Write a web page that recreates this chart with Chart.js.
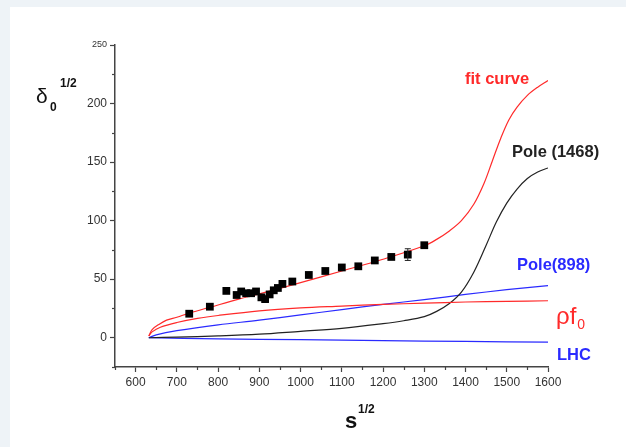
<!DOCTYPE html>
<html>
<head>
<meta charset="utf-8">
<script src="https://cdn.jsdelivr.net/npm/chart.js@4"></script>
<style>
  body { margin: 0; background: #eef3f7; }
  #panel { position: absolute; left: 10px; top: 7px; right: 0; bottom: 0; background: #fff; }
  #wrap { position: absolute; left: 0; top: 0; width: 626px; height: 447px; }
</style>
</head>
<body>
<div id="panel"></div>
<div id="wrap"><canvas id="chart" width="626" height="447"></canvas></div>
<script>
// measured points
const dataX = [730, 780, 820, 845, 856, 868, 880, 892, 905, 914, 925, 935, 945, 956, 980, 1020, 1060, 1100, 1140, 1180, 1220, 1260, 1300];
const dataY = [20.5, 26.5, 40, 36.5, 39.5, 38, 38, 39.5, 34.5, 33, 37, 40.5, 42.5, 46, 48, 53.6, 57, 60, 61, 66, 69, 71, 79];
const dataErr = [0, 0, 0, 0, 0, 0, 0, 0, 0, 0, 0, 0, 0, 0, 0, 0, 0, 0, 0, 0, 0, 5, 0];

// curves
const fitX = [632, 640, 655, 675, 700, 730, 780, 850, 900, 1000, 1100, 1200, 1300, 1330, 1360, 1390, 1420, 1445, 1465, 1485, 1505, 1525, 1550, 1575, 1600];
const fitY = [1.5, 7, 11, 15, 17.5, 21, 26, 33, 37.5, 47, 57, 67, 78.5, 84, 91, 100, 114, 132, 151, 170, 186, 197, 207, 214, 219.7];

const rhoX = [632, 640, 660, 700, 750, 800, 900, 1000, 1100, 1200, 1300, 1400, 1500, 1600];
const rhoY = [1.5, 5, 9, 13, 16.5, 19, 23, 25.5, 27, 28.5, 29.5, 30.5, 31, 31.6];

const poleHX = [632, 700, 800, 900, 1000, 1100, 1200, 1250, 1300, 1330, 1360, 1390, 1420, 1450, 1475, 1500, 1525, 1550, 1575, 1600];
const poleHY = [0, 0.5, 1.5, 3, 5.5, 8, 12, 14.5, 18, 22.5, 29, 39, 56, 79, 99, 115, 127, 136, 141.5, 145];

const poleLX = [632, 650, 700, 800, 900, 1000, 1100, 1200, 1300, 1400, 1500, 1600];
const poleLY = [0, 2.5, 6, 11, 15, 19.5, 24, 28.5, 32.5, 37, 41, 44.5];

const lhcX = [632, 800, 1000, 1200, 1400, 1600];
const lhcY = [0, -1, -1.7, -2.5, -3.2, -3.8];

const xTicks = [600, 700, 800, 900, 1000, 1100, 1200, 1300, 1400, 1500, 1600];
const xMinor = [550, 650, 750, 850, 950, 1050, 1150, 1250, 1350, 1450, 1550];
const yTicks = [0, 50, 100, 150, 200, 250];
const yMinor = [-25, 25, 75, 125, 175, 225];

const pts = (xs, ys) => xs.map((x, i) => ({ x: x, y: ys[i] }));

const RED = '#ff2a2a', BLUE = '#2a2aff', BLACK = '#222', AXIS = '#444';
const FONT = '"Liberation Sans", Arial, sans-serif';

function curve(xs, ys, color) {
  return {
    type: 'line', data: pts(xs, ys), borderColor: color, borderWidth: 1.2,
    pointRadius: 0, fill: false, tension: 0.35, order: 2
  };
}

const extras = {
  id: 'extras',
  afterDatasetsDraw(chart) {
    const { ctx, scales: { x, y } } = chart;
    ctx.save();
    // error bars
    ctx.strokeStyle = BLACK; ctx.lineWidth = 1;
    dataErr.forEach((e, i) => {
      if (!e) return;
      const px = x.getPixelForValue(dataX[i]);
      const y1 = y.getPixelForValue(dataY[i] + e), y2 = y.getPixelForValue(dataY[i] - e);
      ctx.beginPath();
      ctx.moveTo(px, y1); ctx.lineTo(px, y2);
      ctx.moveTo(px - 3, y1); ctx.lineTo(px + 3, y1);
      ctx.moveTo(px - 3, y2); ctx.lineTo(px + 3, y2);
      ctx.stroke();
    });
    // minor ticks
    ctx.strokeStyle = AXIS; ctx.lineWidth = 1.2;
    const b = chart.chartArea.bottom, l = chart.chartArea.left;
    xMinor.forEach(v => {
      const px = Math.round(x.getPixelForValue(v)) + 0.5;
      ctx.beginPath(); ctx.moveTo(px, b); ctx.lineTo(px, b + 3); ctx.stroke();
    });
    yMinor.forEach(v => {
      const py = Math.round(y.getPixelForValue(v)) + 0.5;
      ctx.beginPath(); ctx.moveTo(l, py); ctx.lineTo(l - 3, py); ctx.stroke();
    });

    // curve labels
    const xr = x.getPixelForValue(1600);
    ctx.textBaseline = 'middle';
    ctx.textAlign = 'left';
    ctx.font = 'bold 16.5px ' + FONT;
    ctx.fillStyle = RED;   ctx.fillText('fit curve', xr - 83, y.getPixelForValue(220.5));
    ctx.fillStyle = BLACK; ctx.fillText('Pole (1468)', xr - 36, y.getPixelForValue(158));
    ctx.fillStyle = BLUE;  ctx.fillText('Pole(898)', xr - 31, y.getPixelForValue(61.5));
    ctx.fillStyle = BLUE;  ctx.fillText('LHC', xr + 9, y.getPixelForValue(-15.4));
    ctx.fillStyle = RED;
    ctx.font = '24px ' + FONT;
    ctx.fillText('\u03c1f', xr + 8, y.getPixelForValue(17));
    const w = ctx.measureText('\u03c1f').width;
    ctx.font = '14px ' + FONT;
    ctx.fillText('0', xr + 9 + w, y.getPixelForValue(11));

    // axis titles
    ctx.fillStyle = '#111';
    ctx.font = '21px ' + FONT;
    ctx.fillText('\u03b4', 36, 97);
    ctx.font = 'bold 12px ' + FONT;
    ctx.fillText('0', 50, 108);
    ctx.fillText('1/2', 60, 84);
    ctx.font = 'bold 22px ' + FONT;
    ctx.fillText('s', 345, 422);
    ctx.font = 'bold 12px ' + FONT;
    ctx.fillText('1/2', 358, 410);
    ctx.restore();
  }
};

new Chart(document.getElementById('chart'), {
  type: 'scatter',
  data: {
    datasets: [
      curve(fitX, fitY, RED),
      curve(rhoX, rhoY, RED),
      curve(poleHX, poleHY, BLACK),
      curve(poleLX, poleLY, BLUE),
      curve(lhcX, lhcY, BLUE),
      {
        type: 'scatter', data: pts(dataX, dataY), pointStyle: 'rect', pointRadius: 5.5,
        backgroundColor: '#000', borderColor: '#000', borderWidth: 0, order: 1
      }
    ]
  },
  options: {
    responsive: false,
    animation: false,
    layout: { padding: { left: 0, top: 45, right: 78, bottom: 0 } },
    plugins: { legend: { display: false }, tooltip: { enabled: false } },
    scales: {
      x: {
        type: 'linear', min: 550, max: 1600,
        afterBuildTicks: s => { s.ticks = xTicks.map(v => ({ value: v })); },
        afterFit: s => { s.height = 80; },
        grid: { drawOnChartArea: false, drawTicks: true, tickLength: 5, color: AXIS, tickWidth: 1.2 },
        border: { display: true, color: AXIS, width: 1.5 },
        ticks: { color: '#333', padding: 3, maxRotation: 0, callback: v => String(v), font: { family: FONT, size: 12 } }
      },
      y: {
        type: 'linear', min: -25, max: 250,
        afterBuildTicks: s => { s.ticks = yTicks.map(v => ({ value: v })); },
        afterFit: s => { s.width = 115; },
        grid: { drawOnChartArea: false, drawTicks: true, tickLength: 5, color: AXIS, tickWidth: 1.2 },
        border: { display: true, color: AXIS, width: 1.5 },
        ticks: {
          color: '#333', padding: 3, callback: v => String(v),
          font: c => ({ family: FONT, size: c.tick && c.tick.value === 250 ? 9 : 12 })
        }
      }
    }
  },
  plugins: [extras]
});
</script>
</body>
</html>
